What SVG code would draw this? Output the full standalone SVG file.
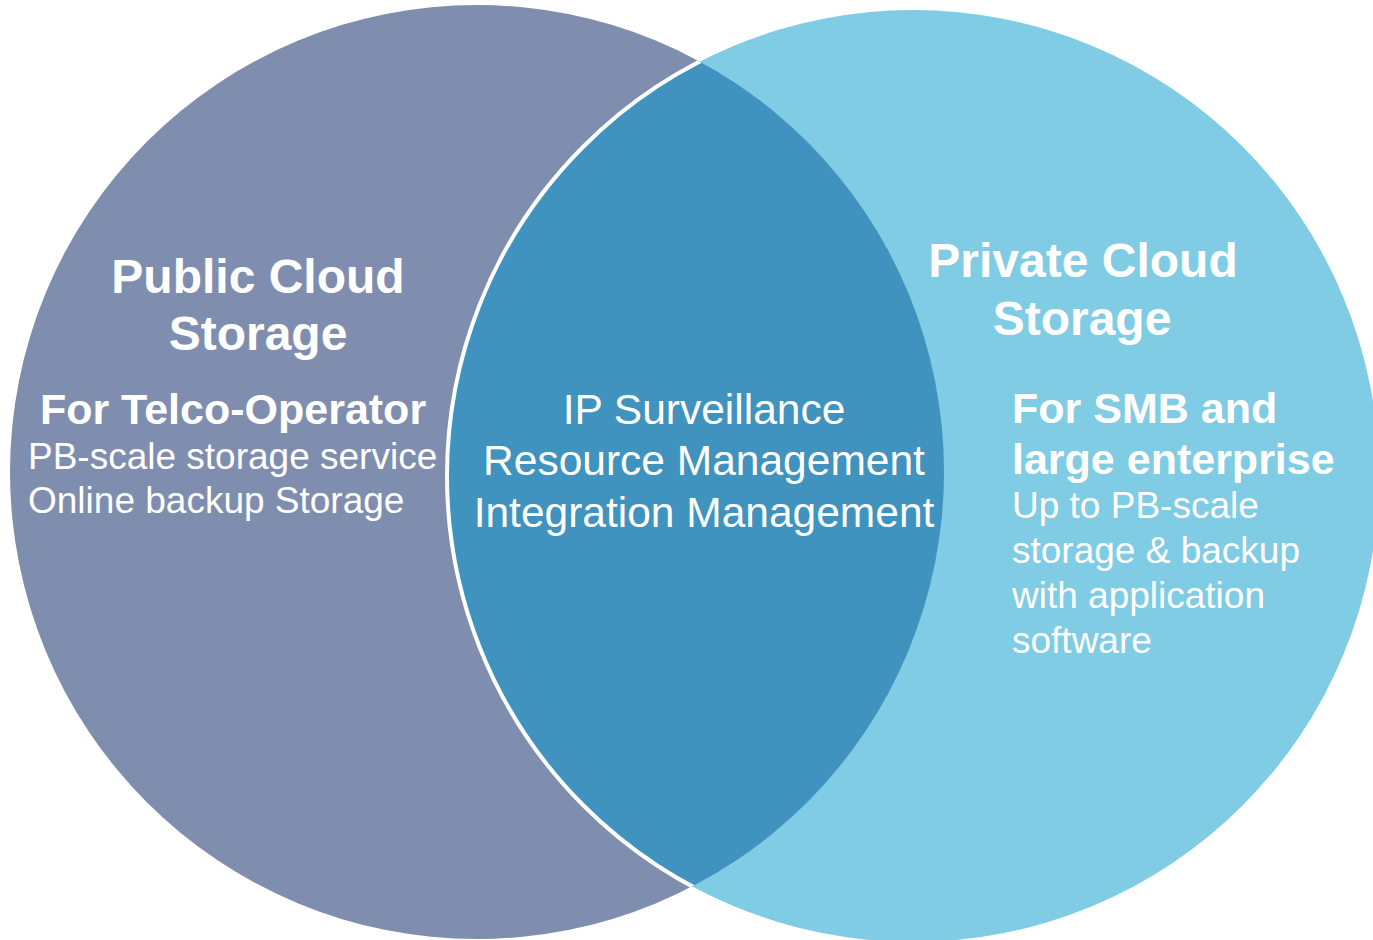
<svg xmlns="http://www.w3.org/2000/svg" width="1373" height="940" viewBox="0 0 1373 940">
<style>
text{font-family:"Liberation Sans",Arial,sans-serif;fill:#fff}
.h{font-weight:bold;font-size:48px;text-anchor:middle}
.s{font-weight:bold;font-size:43px}
.b{font-size:37px}
.c{font-size:42.5px;text-anchor:middle}
</style>
<defs>
<clipPath id="leftClip"><circle cx="477" cy="472" r="467"/></clipPath>
</defs>
<rect width="1373" height="940" fill="#fff"/>
<g id="public">
<circle cx="477" cy="472" r="467" fill="#7F8EAE"/>
</g>
<g id="private">
<circle cx="913" cy="476" r="466" fill="#7FCCE4"/>
</g>
<g id="overlap" clip-path="url(#leftClip)">
<circle cx="913" cy="476" r="466" fill="#3F93BE" stroke="#fff" stroke-width="4"/>
</g>
<g id="public-text">
<text class="h" x="258" y="293">Public Cloud</text>
<text class="h" x="258" y="350">Storage</text>
<text class="s" x="233" y="424" text-anchor="middle">For Telco-Operator</text>
<text class="b" x="28" y="469">PB-scale storage service</text>
<text class="b" x="28" y="513">Online backup Storage</text>
</g>
<g id="overlap-text">
<text class="c" x="704" y="424">IP Surveillance</text>
<text class="c" x="704" y="475">Resource Management</text>
<text class="c" x="704" y="527">Integration Management</text>
</g>
<g id="private-text">
<text class="h" x="1083" y="277">Private Cloud</text>
<text class="h" x="1082" y="335">Storage</text>
<text class="s" x="1012" y="423">For SMB and</text>
<text class="s" x="1012" y="474">large enterprise</text>
<text class="b" x="1012" y="518">Up to PB-scale</text>
<text class="b" x="1012" y="563">storage &amp; backup</text>
<text class="b" x="1012" y="608">with application</text>
<text class="b" x="1012" y="653">software</text>
</g>
<g id="connectors"/>
</svg>
